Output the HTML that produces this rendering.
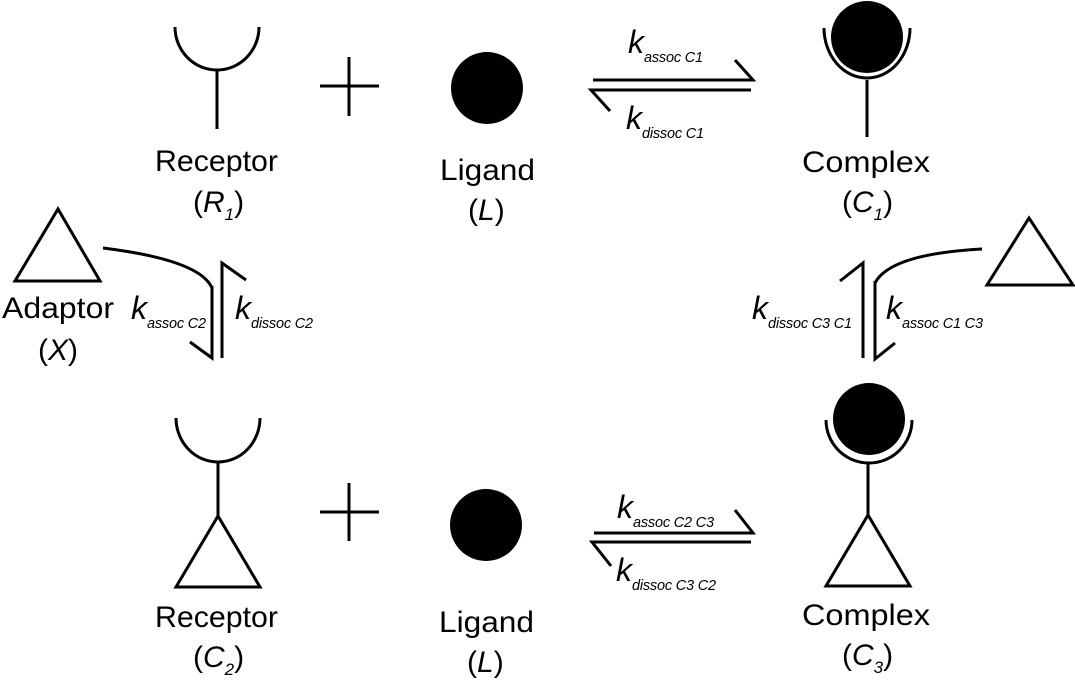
<!DOCTYPE html>
<html><head><meta charset="utf-8"><style>
html,body{margin:0;padding:0;background:#fff;}
svg{display:block;}
text{font-family:"Liberation Sans",sans-serif;fill:#000;}
.lbl{font-size:30px;}
.k{font-size:32px;font-style:italic;}
.sub{font-size:14.5px;font-style:italic;letter-spacing:-0.2px;}
</style></head><body>
<svg width="1075" height="687" viewBox="0 0 1075 687" stroke="#000" stroke-width="3" fill="none">
<g>
<path d="M175 27 A42 43 0 0 0 259 27"/>
<line x1="217" y1="70" x2="217" y2="129"/>
</g>
<text class="lbl" x="155" y="171" textLength="123" lengthAdjust="spacingAndGlyphs" stroke="none">Receptor</text>
<text class="lbl" x="193" y="212" stroke="none">(<tspan font-style="italic">R</tspan><tspan font-size="17" font-style="italic" dy="8">1</tspan><tspan dy="-8">)</tspan></text>

<g><line x1="320" y1="86" x2="379" y2="86"/><line x1="349" y1="57" x2="349" y2="116"/></g>
<circle cx="487" cy="88" r="36" fill="#000" stroke="none"/>
<text class="lbl" x="440" y="180" textLength="95" lengthAdjust="spacingAndGlyphs" stroke="none">Ligand</text>
<text class="lbl" x="468" y="220" stroke="none">(<tspan font-style="italic">L</tspan>)</text>

<g>
<polyline points="593,80 753,80 735,60"/>
<polyline points="751,90 591,90 610,111"/>
</g>
<text class="k" x="628" y="53" stroke="none">k<tspan class="sub" dy="9">assoc C1</tspan></text>
<text class="k" x="626" y="129" stroke="none">k<tspan class="sub" dy="9">dissoc C1</tspan></text>

<g>
<circle cx="867" cy="37" r="36" fill="#000" stroke="none"/>
<path d="M824 28 A43 50 0 0 0 910 28"/>
<line x1="867" y1="80" x2="867" y2="137"/>
</g>
<text class="lbl" x="802" y="172" textLength="128" lengthAdjust="spacingAndGlyphs" stroke="none">Complex</text>
<text class="lbl" x="842" y="212" stroke="none">(<tspan font-style="italic">C</tspan><tspan font-size="17" font-style="italic" dy="8">1</tspan><tspan dy="-8">)</tspan></text>

<polygon points="15,281 100,281 58,209"/>
<text class="lbl" x="2" y="318" textLength="112" lengthAdjust="spacingAndGlyphs" stroke="none">Adaptor</text>
<text class="lbl" x="38" y="360" stroke="none">(<tspan font-style="italic">X</tspan>)</text>
<g>
<path d="M103 248 Q200 260 212 288"/>
<polyline points="212,286 212,358 190,342"/>
<polyline points="222,358 222,263 246,280"/>
</g>
<text class="k" x="131" y="319" stroke="none">k<tspan class="sub" dy="9">assoc C2</tspan></text>
<text class="k" x="235" y="319" stroke="none">k<tspan class="sub" dy="9">dissoc C2</tspan></text>

<polygon points="987,285 1073,285 1029,218"/>
<g>
<path d="M982 249 Q890 254 875 283"/>
<polyline points="875,281 875,359 895,343"/>
<polyline points="863,358 863,263 840,281"/>
</g>
<text class="k" x="752" y="319" stroke="none">k<tspan class="sub" dy="9">dissoc C3 C1</tspan></text>
<text class="k" x="886" y="319" stroke="none">k<tspan class="sub" dy="9">assoc C1 C3</tspan></text>

<g>
<path d="M176 418 A42 44 0 0 0 260 418"/>
<line x1="218" y1="462" x2="218" y2="516"/>
<polygon points="218,516 176,587 260,587"/>
</g>
<text class="lbl" x="155" y="627" textLength="123" lengthAdjust="spacingAndGlyphs" stroke="none">Receptor</text>
<text class="lbl" x="193" y="667" stroke="none">(<tspan font-style="italic">C</tspan><tspan font-size="17" font-style="italic" dy="8">2</tspan><tspan dy="-8">)</tspan></text>

<g><line x1="320" y1="512" x2="379" y2="512"/><line x1="349" y1="483" x2="349" y2="541"/></g>
<circle cx="486" cy="525" r="36" fill="#000" stroke="none"/>
<text class="lbl" x="439" y="632" textLength="95" lengthAdjust="spacingAndGlyphs" stroke="none">Ligand</text>
<text class="lbl" x="467" y="672" stroke="none">(<tspan font-style="italic">L</tspan>)</text>

<g>
<polyline points="594,533 753,533 735,510"/>
<polyline points="751,542 592,542 611,566"/>
</g>
<text class="k" x="617" y="518" stroke="none">k<tspan class="sub" dy="9">assoc C2 C3</tspan></text>
<text class="k" x="616" y="581" stroke="none">k<tspan class="sub" dy="9">dissoc C3 C2</tspan></text>

<g>
<circle cx="869" cy="419" r="36" fill="#000" stroke="none"/>
<path d="M826 420 A43 43 0 0 0 912 420"/>
<line x1="868" y1="463" x2="868" y2="515"/>
<polygon points="868,515 826,586 910,586"/>
</g>
<text class="lbl" x="802" y="625" textLength="128" lengthAdjust="spacingAndGlyphs" stroke="none">Complex</text>
<text class="lbl" x="842" y="665" stroke="none">(<tspan font-style="italic">C</tspan><tspan font-size="17" font-style="italic" dy="8">3</tspan><tspan dy="-8">)</tspan></text>
</svg>
</body></html>
